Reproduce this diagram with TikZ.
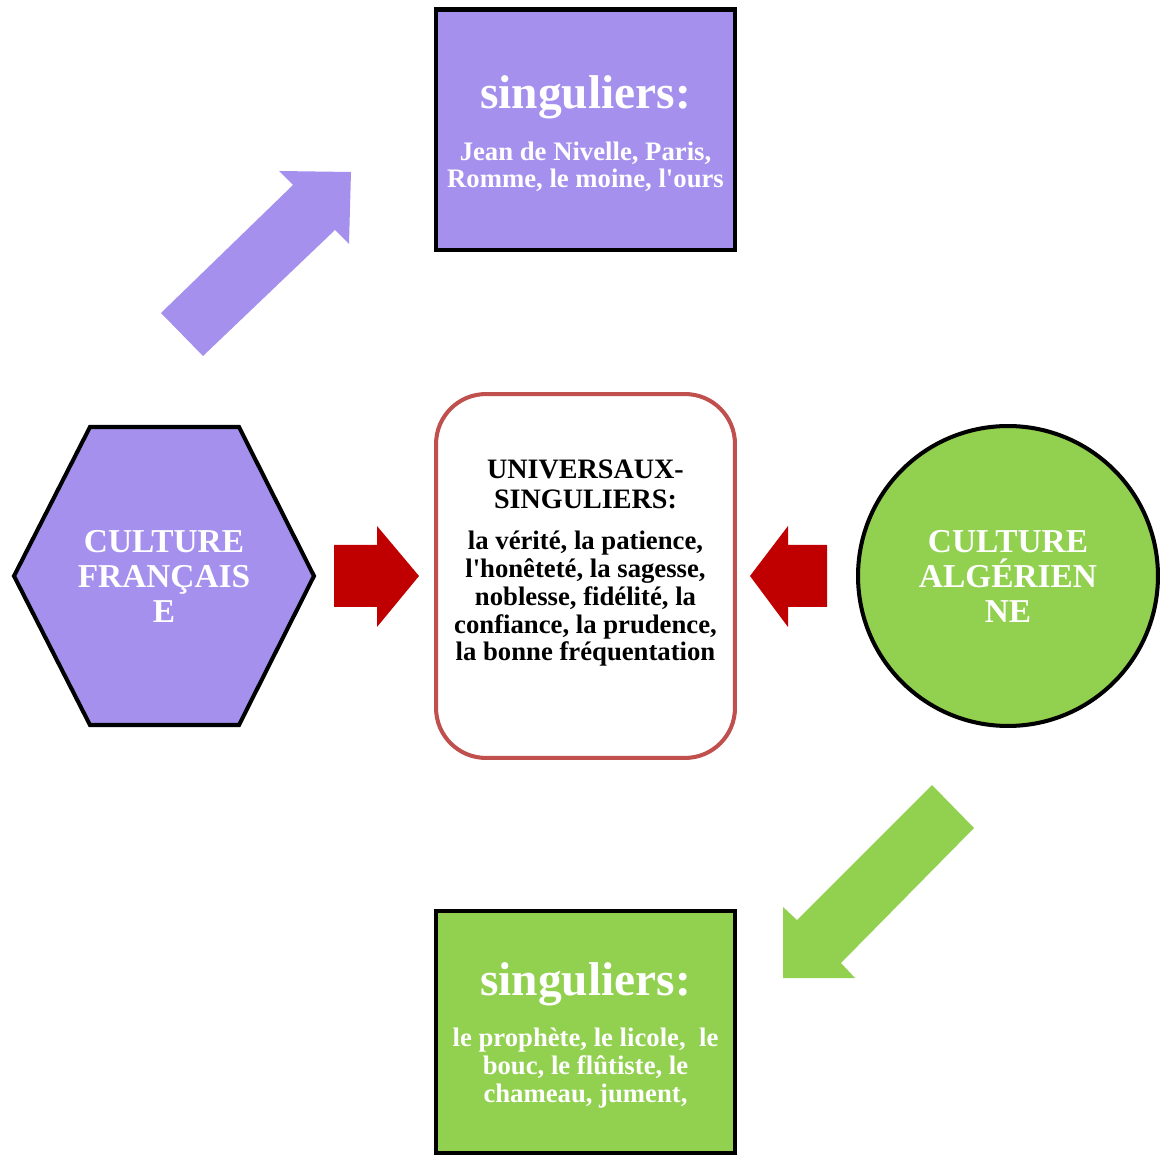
\documentclass[tikz,border=0pt]{standalone}
\usepackage{fontspec}
\setmainfont{Liberation Serif}[Ligatures=TeXOff]
\definecolor{lilas}{HTML}{A591ED}
\definecolor{vert}{HTML}{92D050}
\definecolor{rouge}{HTML}{C00000}
\definecolor{brique}{HTML}{C0504D}

\begin{document}
\begin{tikzpicture}
   [
      x=0.02cm, y=-0.02cm,
      box/.style={rectangle, draw=black, line width=2.3pt, inner sep=0pt,
      minimum width=5.98cm, minimum height=4.82cm},
      title/.style={text=white, inner sep=0pt, anchor=base,
      font=\bfseries\fontsize{27}{30}\selectfont},
      body/.style={align=center, inner sep=0pt, anchor=base,
      font=\bfseries\fontsize{15.2}{15.9}\selectfont},
      culture/.style={text=white, align=center, inner sep=0pt, anchor=base,
      font=\bfseries\fontsize{19}{20.2}\selectfont},
      blockarrow/.style={fill=#1, draw=none}
   ]
   \useasboundingbox (0,0) rectangle (1161,1155);

   % boites des singuliers
   \node[box, fill=lilas] (singfr) at (585.5,130) {};
   \node[title] (titrefr) at (585.5,109) {singuliers:};
   \node[body, text=white] (listefr) at (585.5,188)
      {Jean de Nivelle, Paris,\\Romme, le moine, l'ours};

   \node[box, fill=vert, minimum height=4.84cm] (singalg) at (585.5,1032) {};
   \node[title] (titrealg) at (585.5,995) {singuliers:};
   \node[body, text=white] (listealg) at (585.5,1102)
      {le prophète, le licole,\ \ le\\bouc, le flûtiste, le\\chameau, jument,};

   % universaux
   \node[rectangle, rounded corners=1cm, draw=brique, line width=2.3pt,
      fill=white, minimum width=5.98cm, minimum height=7.28cm] (univ)
      at (585.5,576) {};
   \node[body, font=\bfseries\fontsize{16}{17.1}\selectfont] (titreuniv)
      at (585.5,509) {UNIVERSAUX-\\SINGULIERS:};
   \node[body] (listeuniv) at (585.5,661)
      {la vérité, la patience,\\l'honêteté, la sagesse,\\noblesse, fidélité, la\\
      confiance, la prudence,\\la bonne fréquentation};

   % cultures
   \draw[fill=lilas, line width=2.3pt]
      (14,576) -- (90,427) -- (239,427) -- (314,576) -- (239,725) -- (90,725)
      -- cycle;
   \node[culture] (cultfr) at (164,623) {CULTURE\\FRANÇAIS\\E};

   \node[circle, draw=black, fill=vert, line width=2.3pt, minimum size=6cm,
      inner sep=0pt] (cercalg) at (1008,576) {};
   \node[culture] (cultalg) at (1008,623) {CULTURE\\ALGÉRIEN\\NE};

   % fleches
   \fill[blockarrow=lilas] (161,313) -- (293,185) -- (279,171) -- (351,172)
      -- (349,244) -- (335,230) -- (203,356) -- cycle;
   \fill[blockarrow=vert] (932,785) -- (797,920) -- (783,907) -- (783,978)
      -- (855,978) -- (841,963) -- (974,828) -- cycle;
   \fill[blockarrow=rouge] (334,545) -- (377,545) -- (377,526) -- (419,576)
      -- (377,627) -- (377,607) -- (334,607) -- cycle;
   \fill[blockarrow=rouge] (827,545) -- (788,545) -- (788,526) -- (750,576)
      -- (788,627) -- (788,607) -- (827,607) -- cycle;
\end{tikzpicture}
\end{document}
